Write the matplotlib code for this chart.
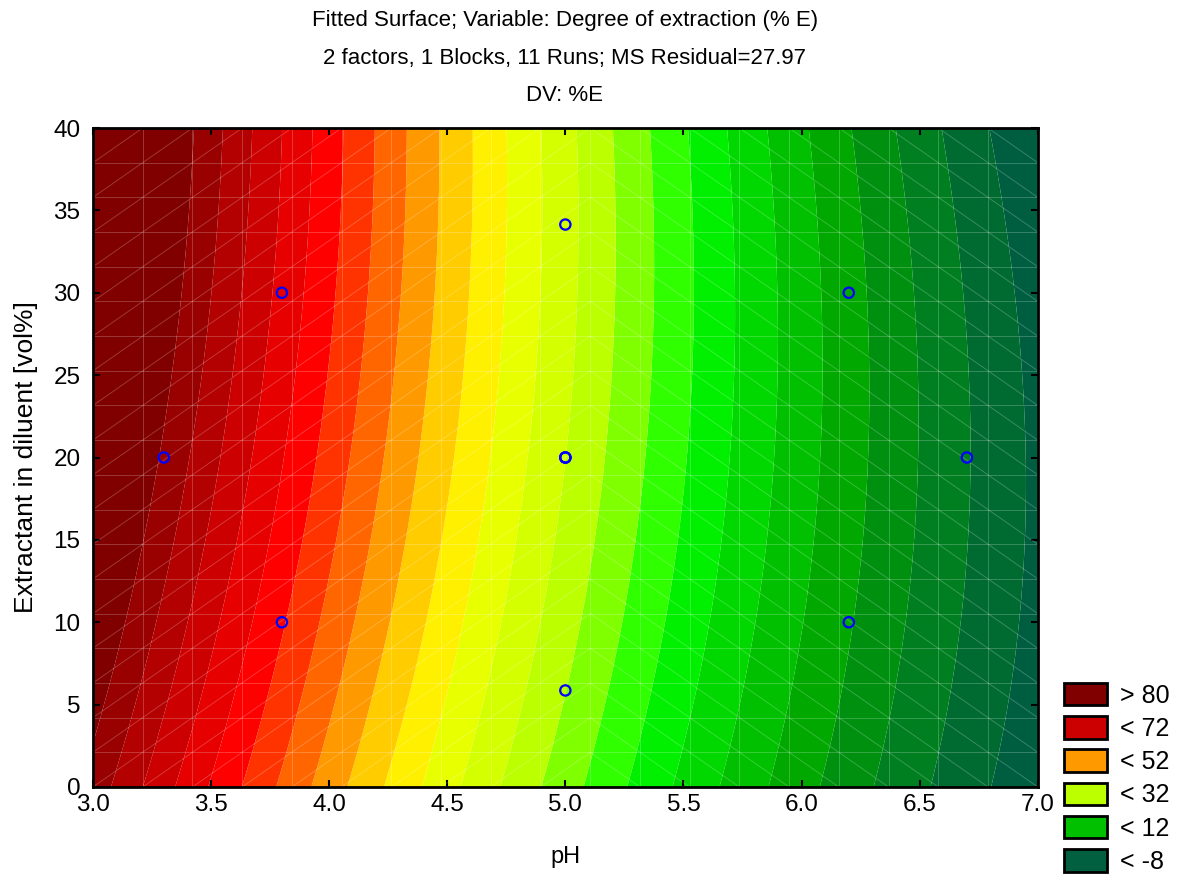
import numpy as np
import matplotlib
matplotlib.use("Agg")
import matplotlib.pyplot as plt
from matplotlib.patches import Patch
from matplotlib.collections import LineCollection

plt.rcParams['font.family'] = ['Liberation Sans', 'DejaVu Sans']

# fitted quadratic model  E = b0 + b1*pH + b2*C + b11*pH^2 + b22*C^2 + b12*pH*C
b0, b1, b2 = 187.2, -42.3, 0.98
b11, b22, b12 = 2.0, -0.0064, -0.107

# design points (central composite, 11 runs)
design_ph = [3.8, 3.8, 6.2, 6.2, 3.3, 6.7, 5.0, 5.0, 5.0, 5.0, 5.0]
design_ext = [10, 30, 10, 30, 20, 20, 5.86, 34.14, 20, 20, 20]

# contour levels and band colours (low -> high)
levels = list(range(-8, 81, 4))
band_colors = ['#005e40', '#006b30', '#007f20', '#009010', '#00a800', '#00c000',
               '#00d800', '#00f000', '#30ff00', '#80ff00', '#bbff00', '#d4ff00',
               '#e8ff00', '#fff000', '#ffcc00', '#ff9900', '#ff6600', '#ff3300',
               '#ff0000', '#e60000', '#cc0000', '#b30000', '#990000', '#800000']

legend_labels = ['> 80', '< 72', '< 52', '< 32', '< 12', '< -8']
legend_colors = ['#800000', '#cc0000', '#ff9900', '#bbff00', '#00c000', '#006040']

ph = np.linspace(3, 7, 300)
ext = np.linspace(0, 40, 300)
X, Y = np.meshgrid(ph, ext)
Z = b0 + b1 * X + b2 * Y + b11 * X ** 2 + b22 * Y ** 2 + b12 * X * Y

fig = plt.figure(figsize=(11.81, 8.81), dpi=100)
ax = fig.add_axes([0.0787, 0.1067, 0.8, 0.748])

all_levels = [-1000] + levels + [1000]
ax.contourf(X, Y, Z, levels=all_levels, colors=band_colors, antialiased=True)

# faint surface mesh
gx = np.linspace(3, 7, 20)
gy = np.linspace(0, 40, 20)
segs = []
for x in gx:
    segs.append([(x, 0), (x, 40)])
for y in gy:
    segs.append([(3, y), (7, y)])
for i in range(len(gx) - 1):
    for j in range(len(gy) - 1):
        if gx[i] < 5:
            segs.append([(gx[i], gy[j]), (gx[i + 1], gy[j + 1])])
        else:
            segs.append([(gx[i], gy[j + 1]), (gx[i + 1], gy[j])])
ax.add_collection(LineCollection(segs, colors='white', linewidths=0.7, alpha=0.22))

ax.scatter(design_ph, design_ext, s=55, facecolors='none', edgecolors='#0000ff',
           linewidths=1.6, zorder=5)

ax.set_xlim(3, 7)
ax.set_ylim(0, 40)
ax.set_xticks(np.arange(3, 7.01, 0.5))
ax.set_xticklabels([f'{v:.1f}' for v in np.arange(3, 7.01, 0.5)])
ax.set_yticks(range(0, 41, 5))
ax.tick_params(direction='in', length=5, width=1.5, labelsize=17.5,
               top=True, right=True)
ax.tick_params(axis='y', pad=9)
ax.tick_params(axis='x', pad=5)
for s in ax.spines.values():
    s.set_linewidth(2)

ax.set_xlabel('pH', fontsize=17, labelpad=22)
ax.set_ylabel('Extractant in diluent [vol%]', fontsize=19, labelpad=11)

fig.text(0.4784, 0.977, 'Fitted Surface; Variable: Degree of extraction (% E)',
         ha='center', va='center', fontsize=16)
fig.text(0.4784, 0.934, '2 factors, 1 Blocks, 11 Runs; MS Residual=27.97',
         ha='center', va='center', fontsize=16)
fig.text(0.4784, 0.892, 'DV: %E', ha='center', va='center', fontsize=16)

handles = [Patch(facecolor=c, edgecolor='black', linewidth=2) for c in legend_colors]
fig.legend(handles, legend_labels, loc='lower left', bbox_to_anchor=(0.901, 0.008),
           frameon=False, fontsize=18, handlelength=1.72, handleheight=1.0,
           labelspacing=0.34, handletextpad=0.5, borderaxespad=0, borderpad=0)

fig.savefig('out.png', dpi=100)
